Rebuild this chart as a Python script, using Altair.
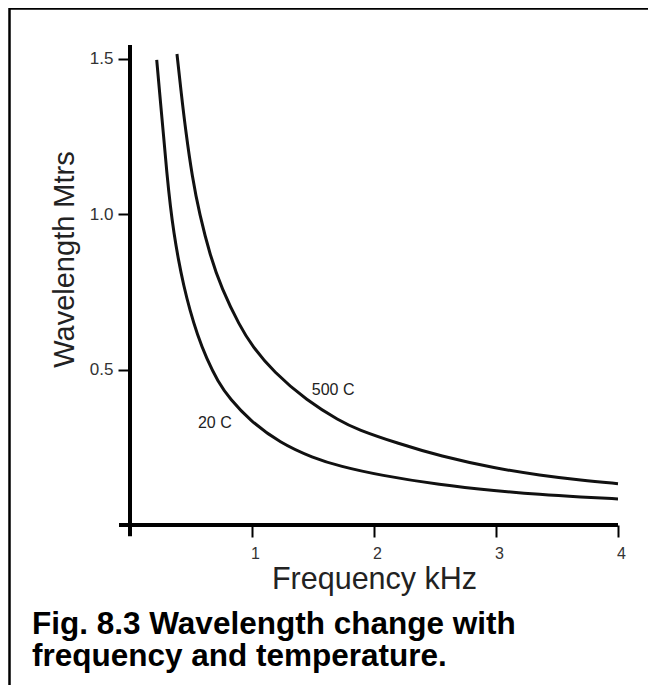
import altair as alt
import pandas as pd

# ---- data ----
freq_20c = [0.219, 0.25, 0.276, 0.30, 0.332, 0.36, 0.396, 0.44, 0.492, 0.55, 0.628, 0.72, 0.82,
            0.984, 1.23, 1.50, 1.72, 2.05, 2.54, 3.00, 3.36, 3.70, 4.00]
wl_20c = [1.497, 1.36, 1.25, 1.14, 1.02, 0.94, 0.855, 0.77, 0.69, 0.615, 0.535, 0.462, 0.405,
          0.336, 0.264, 0.216, 0.189, 0.16, 0.129, 0.110, 0.098, 0.090, 0.084]

freq_500c = [0.385, 0.42, 0.456, 0.51, 0.57, 0.656, 0.75, 0.90, 1.00, 1.175, 1.45, 1.72, 1.86,
             2.20, 2.54, 3.00, 3.36, 3.70, 4.00]
wl_500c = [1.516, 1.39, 1.27, 1.12, 1.00, 0.868, 0.762, 0.64, 0.577, 0.493, 0.40, 0.335, 0.308,
           0.262, 0.222, 0.182, 0.160, 0.144, 0.133]

series_labels = ["20 C", "500 C"]
label_freq = [0.557, 1.49]
label_wl = [0.328, 0.434]

x_ticks = [1, 2, 3, 4]
y_ticks = [0.5, 1.0, 1.5]

caption_lines = ["Fig. 8.3 Wavelength change with", "frequency and temperature."]

FONT = "Liberation Sans"
X_DOMAIN = [0, 4]
Y_DOMAIN = [0, 1.545]

curves = pd.concat([
    pd.DataFrame({"freq": freq_20c, "wl": wl_20c, "series": "20 C"}),
    pd.DataFrame({"freq": freq_500c, "wl": wl_500c, "series": "500 C"}),
])
labels = pd.DataFrame({"freq": label_freq, "wl": label_wl, "text": series_labels})
caption = pd.DataFrame({"line": ["\n".join(caption_lines)]})
one = pd.DataFrame({"a": [0]})

xs = alt.Scale(domain=X_DOMAIN, nice=False, zero=False)
ys = alt.Scale(domain=Y_DOMAIN, nice=False, zero=False)

x_axis = alt.Axis(
    values=x_ticks, format="d", domain=False, grid=False,
    ticks=True, tickSize=12, tickWidth=2, tickColor="black",
    labelFont=FONT, labelFontSize=16, labelColor="#333", labelPadding=8,
    labelOffset=3, labelFlush=False,
    title="Frequency kHz", titleFont=FONT, titleFontSize=30.5,
    titleFontWeight="normal", titleColor="#222", titlePadding=3,
)
y_axis = alt.Axis(
    values=y_ticks, format=".1f", domain=False, grid=False,
    ticks=True, tickSize=12, tickWidth=2, tickColor="black",
    labelFont=FONT, labelFontSize=17, labelColor="#333", labelPadding=5,
    labelFlush=False,
    title="Wavelength Mtrs", titleFont=FONT, titleFontSize=29,
    titleFontWeight="normal", titleColor="#222", titlePadding=10, titleY=214,
)

lines = alt.Chart(curves).mark_line(
    color="#111", strokeWidth=3, interpolate="basis"
).encode(
    x=alt.X("freq:Q", scale=xs, axis=x_axis),
    y=alt.Y("wl:Q", scale=ys, axis=y_axis),
    detail="series:N",
)

text = alt.Chart(labels).mark_text(
    align="left", baseline="middle", font=FONT, fontSize=16, color="#222"
).encode(
    x=alt.X("freq:Q", scale=xs),
    y=alt.Y("wl:Q", scale=ys),
    text="text:N",
)

x_line = alt.Chart(one).mark_rule(color="black", strokeWidth=4).encode(
    x=alt.datum(-0.09, scale=xs), x2=alt.datum(4.0), y=alt.datum(0, scale=ys)
)
y_line = alt.Chart(one).mark_rule(color="black", strokeWidth=4).encode(
    x=alt.datum(0, scale=xs), y=alt.datum(-0.036, scale=ys), y2=alt.datum(1.545)
)

border = alt.Chart(one).mark_rect(
    fill="transparent", stroke="black", strokeWidth=2.5
).encode(
    x=alt.value(-120.5), x2=alt.value(700), y=alt.value(-36.5), y2=alt.value(700)
)

cap = alt.Chart(caption).mark_text(
    align="left", baseline="alphabetic", font=FONT, fontSize=31.5,
    fontWeight="bold", color="black", lineBreak="\n", lineHeight=32
).encode(
    x=alt.value(-98),
    y=alt.value(589),
    text="line:N",
)

chart = alt.layer(border, lines, x_line, y_line, text, cap).properties(
    width=488, height=480,
    autosize=alt.AutoSizeParams(type="none"),
    padding={"left": 122, "top": 37, "right": 30, "bottom": 160},
    background="white",
).configure_view(stroke=None)

chart.save("out.html", embed_options={"renderer": "svg", "actions": False})
